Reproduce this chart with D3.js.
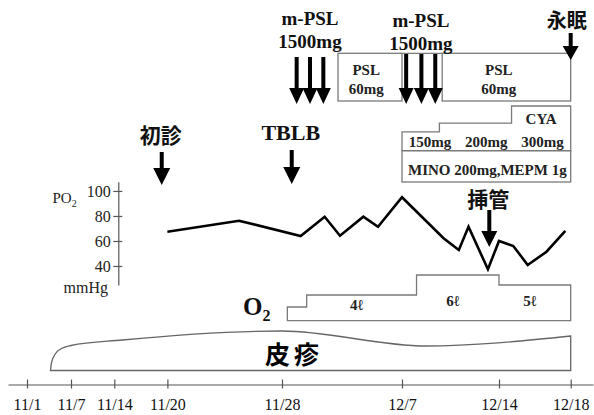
<!DOCTYPE html>
<html><head><meta charset="utf-8">
<script src="https://cdn.jsdelivr.net/npm/d3@7"></script>
<style>body{margin:0;background:#fff} svg{display:block}</style>
</head><body><svg id="c" width="594" height="415"></svg>
<script>
// ---------------- data ----------------
const tickDays   = [1, 7, 14, 20, 28, 37, 44, 48];          // day number (11/1 = 1, 12/1 = 31)
const tickLabels = ["11/1","11/7","11/14","11/20","11/28","12/7","12/14","12/18"];
const po2Days    = [20, 25, 29.4, 31.2, 32.35, 34.1, 35.2, 37, 40, 41.1, 41.8, 43.2, 44, 44.8, 45.6, 46.65, 47.7];
const po2Values  = [67.4, 76.2, 64, 79.4, 64.2, 79.4, 71.4, 95, 62.2, 52.8, 71.4, 37.4, 60, 56, 40.8, 51.4, 68];
const po2Ticks   = [40, 60, 80, 100];
const mpslDays1  = [29.1, 30.1, 31.1];
const mpslDays2  = [37.3, 38.4, 39.4];
const mpslText   = ["m-PSL", "1500mg"];
const pslStart   = [32.2, 39.9];
const pslEnd     = [37, 48];
const pslText    = ["PSL", "60mg"];
const cyaStart   = [37, 39.7, 44.7];
const cyaEnd     = 48;
const cyaDose    = [150, 200, 300];
const cyaLabels  = ["150mg", "200mg", "300mg"];
const minoPeriod = [37, 48];
const minoLabel  = "MINO 200mg,MEPM 1g";
const o2Start    = [28.4, 29.85, 38.05, 44];
const o2End      = 48;
const o2Flow     = [2.8, 4, 6, 5];
const o2Labels   = ["", "4ℓ", "6ℓ", "5ℓ"];
const rashDays   = [4.2, 4.35, 4.9, 5.7, 7, 14.9, 28, 38.7, 48];
const rashLevel  = [0, 8, 17, 22, 25, 30.5, 39.5, 24.5, 34.5];
const eventLabels = ["初診", "TBLB", "挿管", "永眠"];
const eventDays   = [19.36, 28.73, 43.3, 48];

// ---------------- layout ----------------
const SERIF = "'Liberation Serif','Times New Roman',serif";
const CJK = "'Noto Sans CJK JP','Noto Sans CJK SC',sans-serif";
const svg = d3.select("#c");
const boxStroke = "#7a7a7a";

// piecewise (non-uniform) date axis as in the original
const x = d3.scaleLinear()
  .domain([-1.6, ...tickDays, 49.2])
  .range([8, 27, 71, 114.3, 167.4, 282, 402, 499, 570.7, 593]);

// ---- time axis ----
const gx = svg.append("g").attr("transform", "translate(0,384.5)")
  .call(d3.axisBottom(x).tickValues(tickDays).tickFormat((d, i) => tickLabels[i]).tickSizeOuter(0));
gx.select(".domain").attr("stroke", "#555").attr("stroke-width", 1.2);
gx.selectAll(".tick line").attr("y1", -5).attr("y2", 4).attr("stroke", "#555").attr("stroke-width", 1.2);
gx.selectAll(".tick text").attr("y", 25).attr("dy", 0).attr("font-family", SERIF)
  .attr("font-size", 16).attr("fill", "#111");

// ---- rash (皮疹) ----
const yR = d3.scaleLinear().domain([0, 40]).range([370.5, 330.5]);
const rash = rashDays.map((d, i) => [d, rashLevel[i]]);
svg.append("path")
  .attr("d", d3.area().x(d => x(d[0])).y0(yR(0)).y1(d => yR(d[1])).curve(d3.curveMonotoneX)(rash))
  .attr("fill", "none").attr("stroke", "#666").attr("stroke-width", 1.3);
svg.append("text").attr("x", 294).attr("y", 364).attr("text-anchor", "middle")
  .attr("font-family", CJK).attr("font-weight", 700).attr("font-size", 25)
  .attr("letter-spacing", 4).text("皮疹");

// ---- O2 ----
const yO = d3.scaleLinear().domain([1.43, 6]).range([320.7, 275]);
const o2pts = [[o2Start[0], 1.43]].concat(o2Start.map((d, i) => [d, o2Flow[i]]),
  [[o2End, o2Flow[o2Flow.length - 1]], [o2End, 1.43]]);
svg.append("path")
  .attr("d", d3.line().x(d => x(d[0])).y(d => yO(d[1])).curve(d3.curveStepAfter)(o2pts) + "Z")
  .attr("fill", "none").attr("stroke", boxStroke).attr("stroke-width", 1.3);
const o2Baselines = [0, 310, 306, 306];
o2Labels.forEach((t, i) => {
  if (!t) return;
  const e = i < o2Start.length - 1 ? o2Start[i + 1] : o2End;
  svg.append("text").attr("x", (x(o2Start[i]) + x(e)) / 2 - 5).attr("y", o2Baselines[i])
    .attr("text-anchor", "middle").attr("font-family", SERIF).attr("font-weight", 700)
    .attr("font-size", 15).attr("fill", "#222").text(t);
});
const o2t = svg.append("text").attr("x", 243).attr("y", 315).attr("font-family", SERIF)
  .attr("font-weight", 700).attr("font-size", 25).attr("fill", "#111");
o2t.append("tspan").text("O");
o2t.append("tspan").attr("font-size", 16).attr("dy", 6).text("2");

// ---- PO2 ----
const yP = d3.scaleLinear().domain([24.8, 107.4]).range([285, 181.7]);
const gy = svg.append("g").attr("transform", "translate(118.3,0)")
  .call(d3.axisLeft(yP).tickValues(po2Ticks).tickSizeOuter(0));
gy.select(".domain").attr("stroke", "#555").attr("stroke-width", 1.2);
gy.selectAll(".tick line").attr("x1", -5).attr("x2", 4).attr("stroke", "#555").attr("stroke-width", 1.2);
gy.selectAll(".tick text").attr("x", -7.5).attr("font-family", SERIF).attr("font-size", 16).attr("fill", "#222");
const pt = svg.append("text").attr("x", 52.5).attr("y", 203).attr("font-family", SERIF)
  .attr("font-size", 15).attr("fill", "#222");
pt.append("tspan").text("PO");
pt.append("tspan").attr("font-size", 10).attr("dy", 4).text("2");
svg.append("text").attr("x", 108).attr("y", 293).attr("text-anchor", "end").attr("font-family", SERIF)
  .attr("font-size", 16).attr("fill", "#222").text("mmHg");
svg.append("path")
  .attr("d", d3.line().x(d => x(d[0])).y(d => yP(d[1]))(po2Days.map((d, i) => [d, po2Values[i]])))
  .attr("fill", "none").attr("stroke", "#000").attr("stroke-width", 2.6).attr("stroke-linejoin", "miter");

// ---- arrows ----
function arrow(cx, y1, y2, headW = 16, headL = 16, shaftW = 4) {
  const p = d3.path();
  p.moveTo(cx - shaftW / 2, y1); p.lineTo(cx + shaftW / 2, y1);
  p.lineTo(cx + shaftW / 2, y2 - headL); p.lineTo(cx + headW / 2, y2 - headL);
  p.lineTo(cx, y2); p.lineTo(cx - headW / 2, y2 - headL);
  p.lineTo(cx - shaftW / 2, y2 - headL); p.closePath();
  svg.append("path").attr("d", p.toString()).attr("fill", "#000");
}

// ---- PSL boxes ----
const pslTop = 53.3, pslBot = 101;
pslStart.forEach((s, i) => {
  svg.append("rect").attr("x", x(s)).attr("y", pslTop).attr("width", x(pslEnd[i]) - x(s))
    .attr("height", pslBot - pslTop).attr("fill", "none").attr("stroke", boxStroke).attr("stroke-width", 1.3);
  const cx = x(s) + 0.44 * (x(pslEnd[i]) - x(s));
  pslText.forEach((t, j) => svg.append("text").attr("x", cx).attr("y", 75 + j * 18.5)
    .attr("text-anchor", "middle").attr("font-family", SERIF).attr("font-weight", 700)
    .attr("font-size", 15).attr("fill", "#222").text(t));
});
svg.append("line").attr("x1", x(pslEnd[0])).attr("x2", x(pslStart[1])).attr("y1", pslTop).attr("y2", pslTop)
  .attr("stroke", boxStroke).attr("stroke-width", 1.3);

// ---- m-PSL pulses ----
[[mpslDays1, 57, 0], [mpslDays2, 54, 2]].forEach(([days, top, off]) => {
  const cx = x(d3.mean(days));
  mpslText.forEach((t, j) => svg.append("text").attr("x", cx).attr("y", 25 + off + j * 23)
    .attr("text-anchor", "middle").attr("font-family", SERIF).attr("font-weight", 700)
    .attr("font-size", 19).attr("fill", "#111").text(t));
  days.forEach(d => arrow(x(d), top, 104, 15, 16, 4));
});

// ---- CYA ----
const yC = d3.scaleLinear().domain([40, 300]).range([150.7, 106]);
const cyaPts = [[cyaStart[0], 40]].concat(cyaStart.map((d, i) => [d, cyaDose[i]]),
  [[cyaEnd, cyaDose[cyaDose.length - 1]], [cyaEnd, 40]]);
svg.append("path")
  .attr("d", d3.line().x(d => x(d[0])).y(d => yC(d[1])).curve(d3.curveStepAfter)(cyaPts) + "Z")
  .attr("fill", "none").attr("stroke", boxStroke).attr("stroke-width", 1.3);
const cw = (x(cyaEnd) - x(cyaStart[0])) / 3;
cyaLabels.forEach((t, i) => svg.append("text").attr("x", x(cyaStart[0]) + (i + 0.5) * cw).attr("y", 146.5)
  .attr("text-anchor", "middle").attr("font-family", SERIF).attr("font-weight", 700)
  .attr("font-size", 15).attr("fill", "#222").text(t));
svg.append("text").attr("x", (x(cyaStart[2]) + x(cyaEnd)) / 2).attr("y", 124).attr("text-anchor", "middle")
  .attr("font-family", SERIF).attr("font-weight", 700).attr("font-size", 15).attr("fill", "#222").text("CYA");

// ---- MINO / MEPM ----
svg.append("rect").attr("x", x(minoPeriod[0])).attr("y", 150.7).attr("width", x(minoPeriod[1]) - x(minoPeriod[0]))
  .attr("height", 31.3).attr("fill", "none").attr("stroke", boxStroke).attr("stroke-width", 1.3);
svg.append("text").attr("x", (x(minoPeriod[0]) + x(minoPeriod[1])) / 2 + 1).attr("y", 175).attr("text-anchor", "middle")
  .attr("font-family", SERIF).attr("font-weight", 700).attr("font-size", 15).attr("fill", "#222").text(minoLabel);

// ---- events ----
const evLayout = [
  { ty: 143, y1: 152, y2: 185, font: CJK, size: 21, hw: 17, hl: 17 },
  { ty: 140, y1: 150, y2: 184, font: SERIF, size: 22, hw: 17, hl: 17 },
  { ty: 206.5, y1: 210, y2: 247, font: CJK, size: 21, hw: 16, hl: 16 },
  { ty: 28, y1: 33, y2: 60, font: CJK, size: 20, hw: 16, hl: 14 }
];
eventLabels.forEach((t, i) => {
  const L = evLayout[i], cx = x(eventDays[i]);
  svg.append("text").attr("x", i === 3 ? cx - 4 : cx - 1).attr("y", L.ty).attr("text-anchor", "middle")
    .attr("font-family", L.font).attr("font-weight", 700).attr("font-size", L.size).attr("fill", "#111").text(t);
  arrow(cx, L.y1, L.y2, L.hw, L.hl, 4);
});
</script></body></html>
